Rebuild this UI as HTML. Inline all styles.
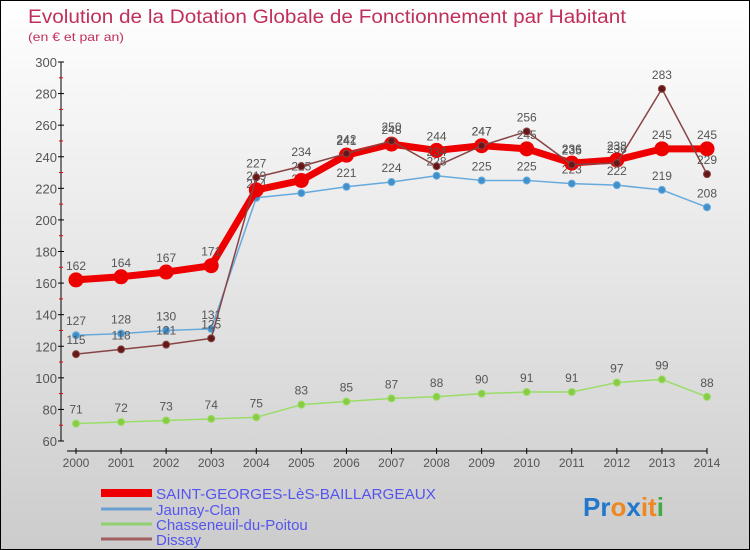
<!DOCTYPE html>
<html><head><meta charset="utf-8"><style>
body{margin:0}
#c{width:750px;height:550px;position:relative;overflow:hidden;background:linear-gradient(#ffffff,#cccccc);border:1px solid #000;box-sizing:border-box}
svg text{font-family:"Liberation Sans",sans-serif}
</style></head><body>
<div id="c">
<svg id="s" width="750" height="550" xmlns="http://www.w3.org/2000/svg">
<text x="27" y="22" font-size="19" fill="#c0305a" textLength="598" lengthAdjust="spacingAndGlyphs">Evolution de la Dotation Globale de Fonctionnement par Habitant</text>
<text x="27" y="40" font-size="12" fill="#c0305a" textLength="96" lengthAdjust="spacingAndGlyphs">(en € et par an)</text>
<g id="axes"></g><g id="plot"></g>
<g font-size="15" fill="#5555ee">
<line x1="100" y1="492" x2="151" y2="492" stroke="#e00" stroke-width="8"/><text x="155" y="498" fill="#5555ee" textLength="280" lengthAdjust="spacingAndGlyphs">SAINT-GEORGES-LèS-BAILLARGEAUX</text>
<line x1="100" y1="508" x2="151" y2="508" stroke="#6aa0d0" stroke-width="3"/><text x="155" y="514" fill="#5555ee">Jaunay-Clan</text>
<line x1="100" y1="523" x2="151" y2="523" stroke="#90d070" stroke-width="3"/><text x="155" y="529" fill="#5555ee">Chasseneuil-du-Poitou</text>
<line x1="100" y1="538" x2="151" y2="538" stroke="#a06060" stroke-width="3"/><text x="155" y="544" fill="#5555ee">Dissay</text>
</g>
<text x="582" y="515" font-size="26" font-weight="bold"><tspan fill="#2277cc">Pr</tspan><tspan fill="#ee8822">o</tspan><tspan fill="#2277cc">x</tspan><tspan fill="#ee8822">it</tspan><tspan fill="#44aa44">i</tspan></text>
</svg></div>
<script>
const years=[2000,2001,2002,2003,2004,2005,2006,2007,2008,2009,2010,2011,2012,2013,2014];
const saint=[162,164,167,171,219,225,241,248,244,247,245,236,238,245,245];
const jaunay=[127,128,130,131,214,217,221,224,228,225,225,223,222,219,208];
const chass=[71,72,73,74,75,83,85,87,88,90,91,91,97,99,88];
const dissay=[115,118,121,125,227,234,242,250,234,247,256,235,236,283,229];
const yTicks=[60,80,100,120,140,160,180,200,220,240,260,280,300];
const NS='http://www.w3.org/2000/svg';
function X(i){return 75+i*(706-75)/(years.length-1);}
function Y(v){return 440-(v-60)*(440-61)/240;}
function mk(t,a,p){const e=document.createElementNS(NS,t);for(const k in a)e.setAttribute(k,a[k]);p.appendChild(e);return e;}
const ax=document.getElementById('axes'),pl=document.getElementById('plot');
const yl=mk('line',{x1:60,y1:61,x2:60,y2:440,stroke:'#000'},ax);


yTicks.forEach(v=>{mk('line',{x1:57,y1:Y(v),x2:63,y2:Y(v),stroke:'#000'},ax);
 const t=mk('text',{x:56,y:Y(v)+5,'font-size':13,fill:'#555','text-anchor':'end'},ax);t.textContent=v;
 
 
 if(v<300)mk('line',{x1:58,y1:Y(v+10),x2:62,y2:Y(v+10),stroke:'#e00'},ax);});
const xl=mk('line',{x1:66,y1:450,x2:706,y2:450,stroke:'#000'},ax);


years.forEach((y,i)=>{mk('line',{x1:X(i),y1:447,x2:X(i),y2:453,stroke:'#000'},ax);
 const t=mk('text',{x:X(i),y:466,'font-size':12,fill:'#555','text-anchor':'middle'},ax);t.textContent=y;
 
 });
function series(vals,name,col,w,r,dot){
 const g=mk('g',{},pl);
 
 
 mk('polyline',{points:vals.map((v,i)=>X(i)+','+Y(v)).join(' '),fill:'none',stroke:col,'stroke-width':w,'stroke-linejoin':'round'},g);
 vals.forEach((v,i)=>{const c=mk('circle',{cx:X(i),cy:Y(v),r:r,fill:dot,stroke:col,'stroke-width':1},g);
  
  
  const t=mk('text',{x:X(i),y:Y(v)-10,'font-size':12,fill:'#555','text-anchor':'middle'},g);t.textContent=v;});
}
series(chass,'series-chasseneuil','#99dd66',1.5,3.5,'#88cc44');
series(jaunay,'series-jaunay','#66aadd',1.5,3.5,'#4090cc');
series(saint,'series-saint-georges','#ee0000',7,7,'#ee0000');
series(dissay,'series-dissay','#884444',1.5,3.5,'#661818');
</script>
</body></html>
